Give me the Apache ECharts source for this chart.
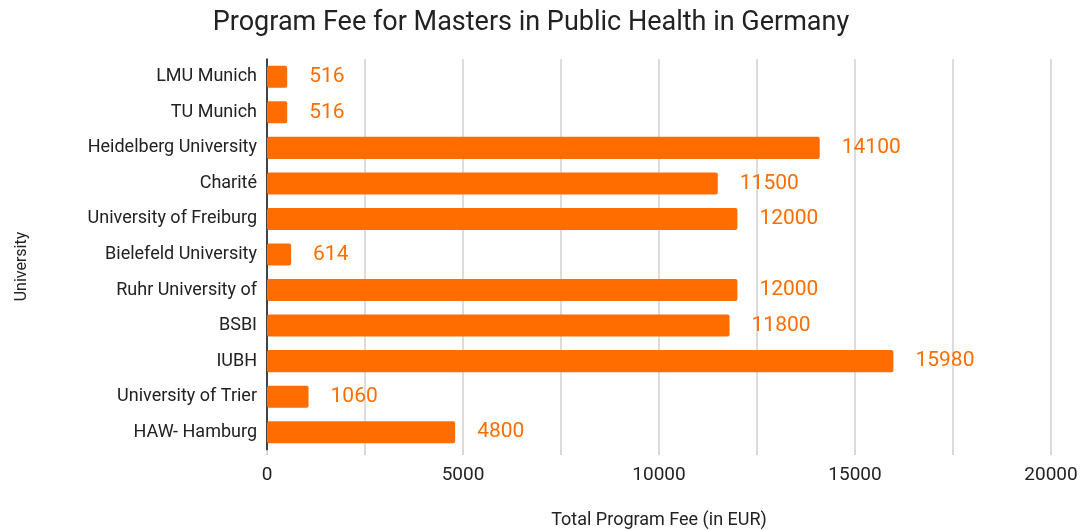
<!DOCTYPE html>
<html>
<head>
<meta charset="utf-8">
<script src="https://cdn.jsdelivr.net/npm/echarts@6/dist/echarts.min.js"></script>
<style>
  html, body { margin: 0; padding: 0; background: #fff; }
  #chart { width: 1085px; height: 530px; }
</style>
</head>
<body>
<div id="chart"></div>
<script>
  var universities = ['LMU Munich', 'TU Munich', 'Heidelberg University', 'Charité', 'University of Freiburg',
    'Bielefeld University', 'Ruhr University of', 'BSBI', 'IUBH', 'University of Trier', 'HAW- Hamburg'];
  var fees = [516, 516, 14100, 11500, 12000, 614, 12000, 11800, 15980, 1060, 4800];
  var feeTicks = [0, 5000, 10000, 15000, 20000];

  var chart = echarts.init(document.getElementById('chart'));
  chart.setOption({
    backgroundColor: '#fff',
    animation: false,
    textStyle: { fontFamily: 'Roboto' },
    title: {
      text: 'Program Fee for Masters in Public Health in Germany',
      left: 526,
      textAlign: 'center',
      top: 5,
      textStyle: { color: '#222', fontWeight: 'normal', fontSize: 27, fontFamily: 'Roboto' }
    },
    grid: { left: 267, right: 34, top: 59, bottom: 80, containLabel: false, outerBoundsMode: 'none' },
    xAxis: {
      type: 'value',
      min: 0,
      max: 20000,
      interval: 2500,
      name: 'Total Program Fee (in EUR)',
      nameLocation: 'middle',
      nameGap: 61,
      nameTextStyle: { color: '#222', fontSize: 18 },
      axisLine: { show: false },
      axisTick: { show: true, length: 5, lineStyle: { color: '#ccc', width: 1.5 } },
      axisLabel: {
        color: '#222',
        fontSize: 19,
        margin: 16,
        formatter: function (v) { return feeTicks.indexOf(v) >= 0 ? String(v) : ''; }
      },
      splitLine: { show: true, lineStyle: { color: '#d0d0d0', width: 1.5 } }
    },
    yAxis: {
      type: 'category',
      data: universities,
      inverse: true,
      name: 'University',
      nameLocation: 'middle',
      nameGap: 237,
      nameTextStyle: { color: '#222', fontSize: 16, padding: [0, 24, 0, 0] },
      axisLine: { show: true, lineStyle: { color: '#111', width: 1.5 } },
      axisTick: { show: false },
      axisLabel: { color: '#222', fontSize: 18, margin: 10 }
    },
    series: [{
      type: 'bar',
      data: fees,
      barCategoryGap: '38%',
      itemStyle: { color: '#ff6d01', borderRadius: 2 },
      label: {
        show: true,
        position: 'right',
        distance: 22,
        color: '#ff6d01',
        fontSize: 21
      }
    }]
  });
</script>
</body>
</html>
